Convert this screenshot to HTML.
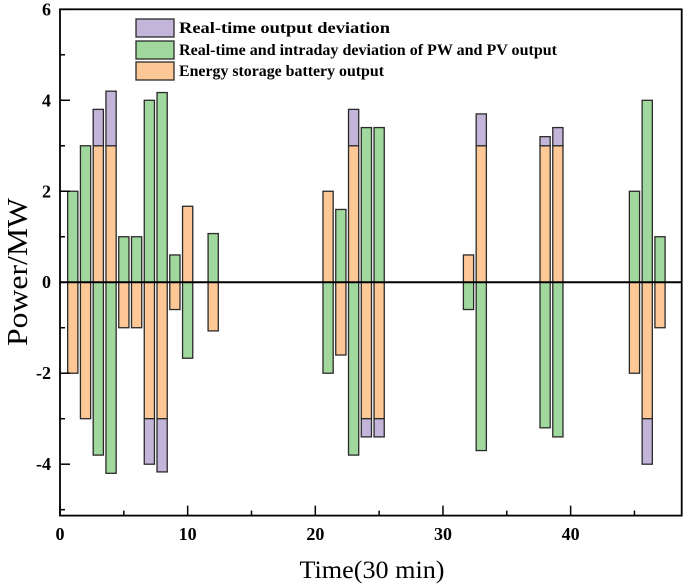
<!DOCTYPE html>
<html><head><meta charset="utf-8"><style>
body{margin:0;background:#fff;}
svg{display:block;font-family:"Liberation Serif",serif;}
</style></head><body>
<svg id="chart" width="685" height="585" viewBox="0 0 685 585" xmlns="http://www.w3.org/2000/svg"></svg>
<script>
const times =       [1,2,3,4,5,6,7,8,9,10,12,21,22,23,24,25,32,33,38,39,45,46,47];
const greenVals =   [2,3,-3.8,-4.2,1,1,4,4.17,0.6,-1.67,1.07,-2,1.6,-3.8,3.4,3.4,-0.6,-3.7,-3.2,-3.4,2,4,1];
const orangeVals =  [-2,-3,3,3,-1,-1,-3,-3,-0.6,1.67,-1.07,2,-1.6,3,-3,-3,0.6,3,3,3,-2,-3,-1];
const purpleVals =  [0,0,0.8,1.2,0,0,-1,-1.17,0,0,0,0,0,0.8,-0.4,-0.4,0,0.7,0.2,0.4,0,-1,0];
const xTicks = [0,10,20,30,40];
const yTicks = [-4,-2,0,2,4,6];

const NS="http://www.w3.org/2000/svg";
const svg=document.getElementById('chart');
const L=60,R=681.7,T=9.3,B=515.6,xMin=0,xMax=48.7,yMin=-5.13,yMax=6;
const xs=v=>L+(v-xMin)/(xMax-xMin)*(R-L);
const ys=v=>B-(v-yMin)/(yMax-yMin)*(B-T);
function mk(tag,attrs,parent){const e=document.createElementNS(NS,tag);for(const k in attrs)e.setAttribute(k,attrs[k]);(parent||svg).appendChild(e);return e;}
const C={p:'#c3b4d9',g:'#a0d89d',o:'#fdc896'};
const bw=(xs(0.8)-xs(0));
function bar(t,y0,y1,col,name){
  if(Math.abs(y1-y0)<1e-9)return;
  const r=mk('rect',{x:xs(t)-bw/2,y:Math.min(ys(y0),ys(y1)),width:bw,height:Math.abs(ys(y1)-ys(y0)),fill:col,stroke:'#2a2a2a','stroke-width':1.3});
  
  
}
times.forEach((t,i)=>{
  bar(t,0,greenVals[i],C.g,'bar-green-t'+t);
  bar(t,0,orangeVals[i],C.o,'bar-orange-t'+t);
  bar(t,orangeVals[i],orangeVals[i]+purpleVals[i],C.p,'bar-purple-t'+t);
});
const z=mk('line',{x1:L,x2:R,y1:ys(0),y2:ys(0),stroke:'#000','stroke-width':2});

const f=mk('rect',{x:L,y:T,width:R-L,height:B-T,fill:'none',stroke:'#000','stroke-width':1.8});

for(let v=-5;v<=6;v++){
  const major=v%2===0;
  const tk=mk('line',{x1:L,x2:L+(major?10:5),y1:ys(v),y2:ys(v),stroke:'#000','stroke-width':1.5});
  
}
yTicks.forEach(v=>{
  const t=mk('text',{x:L-9,y:ys(v)+6,'text-anchor':'end','font-size':18,'font-weight':'bold'});
  t.textContent=v;
  
});
for(let v=0;v<=45;v+=5){
  const major=v%10===0;
  const tk=mk('line',{x1:xs(v),x2:xs(v),y1:B,y2:B-(major?10:5),stroke:'#000','stroke-width':1.5});
  
}
xTicks.forEach(v=>{
  const t=mk('text',{x:xs(v),y:540,'text-anchor':'middle','font-size':18,'font-weight':'bold'});
  t.textContent=v;
  
});
const xt=mk('text',{x:372,y:578,'text-anchor':'middle','font-size':25,textLength:145,lengthAdjust:'spacingAndGlyphs'});
xt.textContent='Time(30 min)';
const yt=mk('text',{x:0,y:0,'text-anchor':'middle','font-size':28,textLength:148,lengthAdjust:'spacingAndGlyphs',transform:'translate(27,272) rotate(-90)'});
yt.textContent='Power/MW';
const leg=[[C.p,'Real-time output deviation',19,211],[C.g,'Real-time and intraday deviation of PW and PV output',41,378],[C.o,'Energy storage battery output',62,205]];
leg.forEach(([c,label,y,w])=>{
  const r=mk('rect',{x:136,y:y,width:38,height:18,fill:c,stroke:'#2a2a2a','stroke-width':1.3});
  
  const t=mk('text',{x:179,y:y+14,'font-size':16,'font-weight':'bold',textLength:w,lengthAdjust:'spacingAndGlyphs'});
  t.textContent=label;
  
});
</script>
</body></html>
